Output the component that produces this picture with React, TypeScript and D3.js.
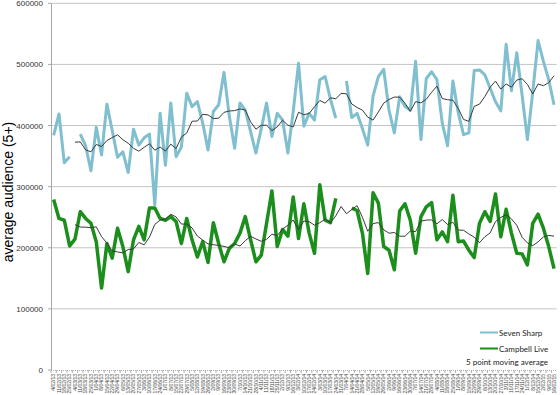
import * as d3 from 'd3'

// weekly dates (category labels)
const weeks: string[] = [
  '4/02/13', '11/02/13', '18/02/13', '25/02/13', '4/03/13', '11/03/13', '18/03/13', '25/03/13',
  '1/04/13', '8/04/13', '15/04/13', '22/04/13', '29/04/13', '6/05/13', '13/05/13', '20/05/13',
  '27/05/13', '3/06/13', '10/06/13', '17/06/13', '24/06/13', '1/07/13', '8/07/13', '15/07/13',
  '22/07/13', '29/07/13', '5/08/13', '12/08/13', '19/08/13', '26/08/13', '2/09/13', '9/09/13',
  '16/09/13', '23/09/13', '30/09/13', '7/10/13', '14/10/13', '21/10/13', '28/10/13', '4/11/13',
  '11/11/13', '18/11/13', '25/11/13', '2/12/13', '9/12/13', '16/12/13',
  '3/02/14', '10/02/14', '17/02/14', '24/02/14', '3/03/14', '10/03/14', '17/03/14', '24/03/14',
  '31/03/14', '7/04/14', '14/04/14', '21/04/14', '28/04/14', '5/05/14', '12/05/14', '19/05/14',
  '26/05/14', '2/06/14', '9/06/14', '16/06/14', '23/06/14', '30/06/14', '7/07/14', '14/07/14',
  '21/07/14', '28/07/14', '4/08/14', '11/08/14', '18/08/14', '25/08/14', '1/09/14', '8/09/14',
  '15/09/14', '22/09/14', '29/09/14', '6/10/14', '13/10/14', '20/10/14', '27/10/14', '3/11/14',
  '10/11/14', '17/11/14', '24/11/14', '1/12/14', '8/12/14', '15/12/14',
  '2/02/15', '9/02/15', '16/02/15',
]

const sevenSharp: (number | null)[] = [
  384000, 419000, 339000, 349000, null, 386000, 367000, 326000, 397000, 352000,
  435000, 392000, 348000, 357000, 323000, 394000, 368000, 380000, 386000, 270000,
  420000, 335000, 437000, 349000, 365000, 453000, 431000, 439000, 404000, 360000,
  423000, 434000, 487000, 415000, 363000, 437000, 425000, 390000, 355000, 395000,
  437000, 382000, 420000, 409000, 355000, 423000, 502000, 399000, 420000, 409000,
  475000, 480000, 443000, 412000, null, 473000, 413000, 420000, 395000, 368000,
  448000, 480000, 492000, 425000, 388000, 447000, 431000, 425000, 505000, 377000,
  477000, 488000, 475000, 404000, 367000, 473000, 421000, 385000, 388000, 490000,
  491000, 483000, 461000, 439000, 424000, 533000, 457000, 519000, 450000, 377000,
  455000, 539000, 505000, 475000, 434000,
]

const campbellLive: (number | null)[] = [
  279000, 248000, 245000, 203000, 214000, 259000, 248000, 240000, 210000, 134000,
  207000, 183000, 232000, 202000, 161000, 213000, 235000, 213000, 265000, 265000,
  248000, 245000, 251000, 243000, 207000, 248000, 213000, 185000, 210000, 176000,
  241000, 207000, 177000, 199000, 207000, 224000, 251000, 213000, 177000, 188000,
  240000, 293000, 202000, 230000, 219000, 283000, 215000, 272000, 224000, 191000,
  303000, 245000, 241000, 281000, null, null, 265000, 261000, 224000, 158000,
  290000, 273000, 202000, 196000, 164000, 260000, 272000, 245000, 191000, 251000,
  267000, 274000, 213000, 226000, 210000, 286000, 210000, 211000, 196000, 184000,
  240000, 259000, 243000, 288000, 218000, 263000, 224000, 191000, 190000, 172000,
  240000, 255000, 232000, 202000, 166000,
]

const yTicks = [0, 100000, 200000, 300000, 400000, 500000, 600000]

// trailing 5 point moving average, blanks skipped like the spreadsheet trendline
const movingAvg = (vals: (number | null)[]) =>
  vals.map((_, i) => (i < 4 ? null : d3.mean(vals.slice(i - 4, i + 1), v => v ?? undefined) ?? null))

export default function App() {
  const width = 560
  const height = 395
  const left = 51
  const right = 556.7
  const top = 3.3
  const bottom = 370

  const x = d3.scaleBand<number>().domain(d3.range(weeks.length)).range([left, right]).paddingInner(0)
  const y = d3.scaleLinear().domain([0, 600000]).range([bottom, top])
  const cx = (i: number) => (x(i) ?? 0) + x.bandwidth() / 2

  const line = d3.line<number | null>()
    .defined(d => d != null)
    .x((_, i) => cx(i))
    .y(d => y(d as number))

  const sharpAvg = movingAvg(sevenSharp)
  const liveAvg = movingAvg(campbellLive)

  return (
    <div style={{ position: 'absolute', left: 0, top: 0 }}>
      <svg width={width} height={height} style={{ display: 'block', background: '#fff' }}>
        {/* grid */}
        {yTicks.filter(t => t > 0).map(t => (
          <line key={t} x1={left} x2={right} y1={y(t)} y2={y(t)} stroke='#c4c4c4' strokeWidth={1} />
        ))}
        {/* y axis */}
        <line x1={left + 0.5} x2={left + 0.5} y1={top} y2={bottom} stroke='#a8a8a8' />
        {yTicks.map(t => (
          <g key={'yt' + t}>
            <line x1={left - 3} x2={left} y1={y(t)} y2={y(t)} stroke='#a8a8a8' />
            <text x={left - 8} y={y(t) + 3} textAnchor='end' fontSize={8}
              fontFamily='Liberation Sans, Arial, sans-serif' fill='#333'>{t}</text>
          </g>
        ))}
        {/* x axis */}
        <line x1={left} x2={right} y1={bottom + 0.5} y2={bottom + 0.5} stroke='#b0b0b0' strokeDasharray='1,1' />
        {weeks.map((w, i) => (
          <g key={w}>
            <line x1={x(i)} x2={x(i)} y1={bottom} y2={bottom + 3} stroke='#b0b0b0' />
            <text transform={`translate(${cx(i) + 1.8},${bottom + 4}) rotate(-90)`} textAnchor='end'
              fontSize={5} fontFamily='Liberation Sans, Arial, sans-serif' fill='#444'>{w}</text>
          </g>
        ))}

        {/* series */}
        <path d={line(sevenSharp) ?? ''} fill='none' stroke='#80bfcf' strokeWidth={3} strokeLinejoin='round' />
        <path d={line(campbellLive) ?? ''} fill='none' stroke='#1b8e1b' strokeWidth={3.5} strokeLinejoin='round' />
        <path d={line(sharpAvg) ?? ''} fill='none' stroke='#3a3a3a' strokeWidth={1} />
        <path d={line(liveAvg) ?? ''} fill='none' stroke='#3a3a3a' strokeWidth={1} />

        {/* y title */}
        <text transform='translate(13,192) rotate(-90)' textAnchor='middle' fontSize={14}
          fontFamily='Liberation Sans, Arial, sans-serif' fill='#000'>average audience (5+)</text>

        {/* legend */}
        <line x1={480} x2={498} y1={332.5} y2={332.5} stroke='#80bfcf' strokeWidth={2} />
        <text x={499} y={335.5} fontSize={8} fontFamily='Lato, sans-serif' fill='#222'>Seven Sharp</text>
        <line x1={480} x2={498} y1={348.5} y2={348.5} stroke='#1b8e1b' strokeWidth={2} />
        <text x={499} y={351.5} fontSize={8} fontFamily='Lato, sans-serif' fill='#222'>Campbell Live</text>
        <text x={548} y={365} textAnchor='end' fontSize={8} fontFamily='Lato, sans-serif' fill='#222'>5 point moving average</text>
      </svg>
    </div>
  )
}
